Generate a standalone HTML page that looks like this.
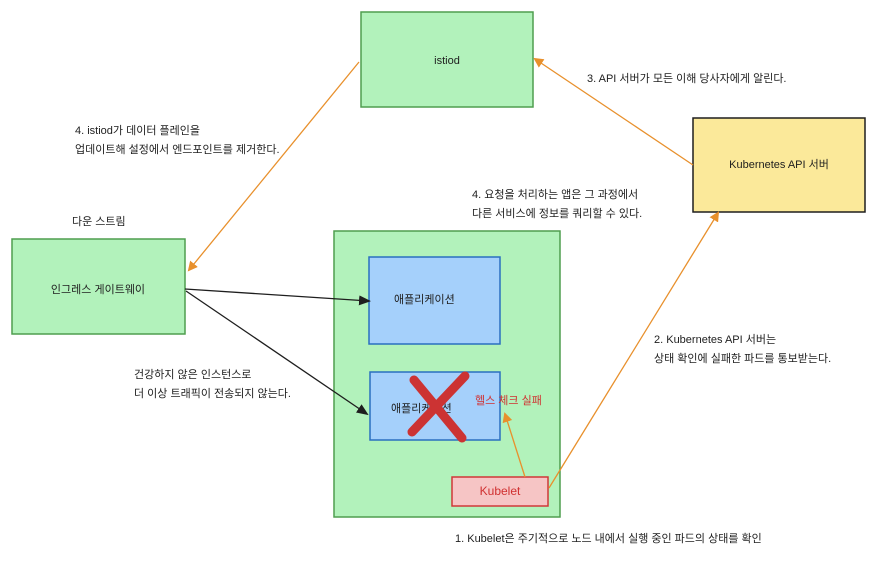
<!DOCTYPE html>
<html><head><meta charset="utf-8"><style>
html,body{margin:0;padding:0;background:#fff;}
svg text{font-family:"Liberation Sans","Noto Sans CJK KR",sans-serif;font-size:11px;fill:#1e1e1e;}
</style></head><body>
<svg width="872" height="557" viewBox="0 0 872 557" xmlns="http://www.w3.org/2000/svg">
<defs>
<marker id="ao" markerWidth="10" markerHeight="10" refX="8" refY="5" orient="auto" markerUnits="userSpaceOnUse"><path d="M0,0 L10,5 L0,10 Z" fill="#e8902c"/></marker>
<marker id="ab" markerWidth="12" markerHeight="10" refX="10" refY="5" orient="auto" markerUnits="userSpaceOnUse"><path d="M0,0 L12,5 L0,10 Z" fill="#1e1e1e"/></marker>
</defs>
<rect x="361" y="12" width="172" height="95" fill="#b2f2bb" stroke="#4f9e4f" stroke-width="1.5"/>
<text x="447" y="64" text-anchor="middle">istiod</text>
<rect x="693" y="118" width="172" height="94" fill="#fbe99a" stroke="#1e1e1e" stroke-width="1.5"/>
<text x="779" y="168" text-anchor="middle">Kubernetes API 서버</text>
<rect x="12" y="239" width="173" height="95" fill="#b2f2bb" stroke="#4f9e4f" stroke-width="1.5"/>
<text x="98" y="293" text-anchor="middle">인그레스 게이트웨이</text>
<rect x="334" y="231" width="226" height="286" fill="#b2f2bb" stroke="#4f9e4f" stroke-width="1.5"/>
<rect x="369" y="257" width="131" height="87" fill="#a5d0fb" stroke="#2a6fc0" stroke-width="1.5"/>
<text x="394" y="303">애플리케이션</text>
<rect x="370" y="372" width="130" height="68" fill="#a5d0fb" stroke="#2a6fc0" stroke-width="1.5"/>
<text x="391" y="412">애플리케이션</text>
<path d="M414,380 L462,438 M465,376 L412,432" stroke="#cc3333" stroke-width="9" stroke-linecap="round" fill="none"/>
<text x="475" y="404" style="fill:#d03030">헬스 체크 실패</text>
<rect x="452" y="477" width="96" height="29" fill="#f6c5c5" stroke="#d03838" stroke-width="1.5"/>
<text x="500" y="495" text-anchor="middle" style="fill:#d03030;font-size:12px">Kubelet</text>
<line x1="693" y1="165" x2="535" y2="59" stroke="#e8902c" stroke-width="1.3" marker-end="url(#ao)"/>
<line x1="359" y1="62" x2="189" y2="270" stroke="#e8902c" stroke-width="1.3" marker-end="url(#ao)"/>
<line x1="549" y1="488" x2="718" y2="213" stroke="#e8902c" stroke-width="1.3" marker-end="url(#ao)"/>
<line x1="525" y1="477" x2="505" y2="414" stroke="#e8902c" stroke-width="1.3" marker-end="url(#ao)"/>
<line x1="185" y1="289" x2="369" y2="301" stroke="#1e1e1e" stroke-width="1.3" marker-end="url(#ab)"/>
<line x1="186" y1="291" x2="367" y2="414" stroke="#1e1e1e" stroke-width="1.3" marker-end="url(#ab)"/>
<text x="587" y="82">3. API 서버가 모든 이해 당사자에게 알린다.</text>
<text x="75" y="134">4. istiod가 데이터 플레인을</text>
<text x="75" y="153">업데이트해 설정에서 엔드포인트를 제거한다.</text>
<text x="472" y="198">4. 요청을 처리하는 앱은 그 과정에서</text>
<text x="472" y="217">다른 서비스에 정보를 쿼리할 수 있다.</text>
<text x="72" y="225">다운 스트림</text>
<text x="654" y="343">2. Kubernetes API 서버는</text>
<text x="654" y="362">상태 확인에 실패한 파드를 통보받는다.</text>
<text x="134" y="378">건강하지 않은 인스턴스로</text>
<text x="134" y="397">더 이상 트래픽이 전송되지 않는다.</text>
<text x="455" y="542">1. Kubelet은 주기적으로 노드 내에서 실행 중인 파드의 상태를 확인</text>
</svg>
</body></html>
